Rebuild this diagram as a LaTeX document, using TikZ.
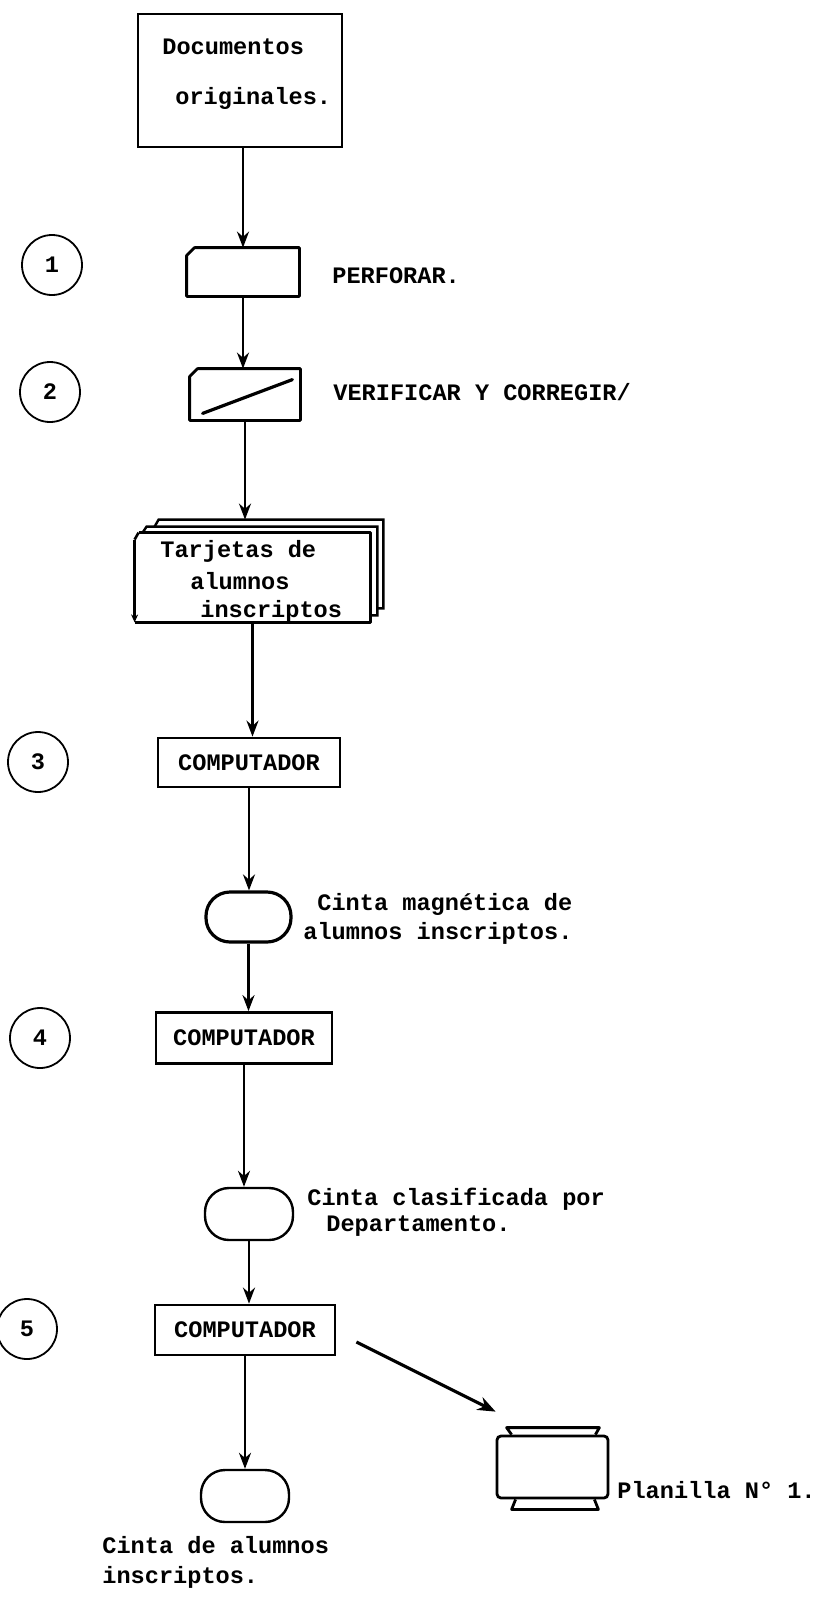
\documentclass[tikz,border=0pt]{standalone}
\usepackage{fontspec}
\setmonofont{Liberation Mono}
\usetikzlibrary{arrows.meta,calc}
\begin{document}
\begin{tikzpicture}[x=0.5pt,y=-0.5pt,
  boxl/.style={line width=1.4pt, line join=round},
  plain/.style={shape=rectangle, inner sep=0pt, draw=none},
  boxn/.style={shape=rectangle, inner sep=0pt, draw, line width=1.4pt},
  tape/.style={shape=rectangle, inner sep=0pt, draw, line width=1.3pt, rounded corners=12pt},
  num/.style={circle, draw, line width=0.9pt, minimum size=30pt, inner sep=0pt,
    font=\ttfamily\bfseries\fontsize{11.8pt}{14pt}\selectfont},
  txt/.style={inner sep=0pt, anchor=west, font=\ttfamily\bfseries\fontsize{11.8pt}{14pt}\selectfont},
  ctxt/.style={font=\ttfamily\bfseries\fontsize{11.8pt}{14pt}\selectfont},
  arr/.style={line width=1.2pt, -{Stealth[length=8pt,width=6pt]}}
]
\fill[white] (0,0) rectangle (819,1608);
\useasboundingbox (0,0) rectangle (819,1608);

% step numbers
\node[num] (c1) at (52,265) {1};
\node[num] (c2) at (50,392) {2};
\node[num] (c3) at (38,762) {3};
\node[num] (c4) at (40,1038) {4};
\node[num] (c5) at (27,1329) {5};

% documents
\node[boxn, minimum width=102pt, minimum height=66.5pt] (doc) at (240,80.5) {};
\node[txt] (t1) at (162,47) {Documentos};
\node[txt] (t2) at (175,98) {originales.};

% perforar card
\node[plain, minimum width=56pt, minimum height=24pt] (perf) at (243,272) {};
\draw[boxl] ([xshift=4pt]perf.north west) -- (perf.north east) -- (perf.south east)
  -- (perf.south west) -- ([yshift=-4pt]perf.north west) -- cycle;
\node[txt] (tperf) at (332,276) {PERFORAR.};

% verificar card
\node[plain, minimum width=55pt, minimum height=25.5pt] (verif) at (245,394.5) {};
\draw[boxl] ([xshift=4pt]verif.north west) -- (verif.north east) -- (verif.south east)
  -- (verif.south west) -- ([yshift=-4pt]verif.north west) -- cycle;
\draw[line width=1.6pt, line cap=round] ($(verif.south west)+(13,-7)$) -- ($(verif.north east)+(-8,11)$);
\node[txt] (tverif) at (333,392) {VERIFICAR Y CORREGIR/};

% deck of cards
\node[plain, minimum width=117.5pt, minimum height=44.5pt] (deck) at (252.5,577.5) {};
\coordinate (decktop) at ($(deck.north)+(0,-13)$);
\draw[boxl] ($(deck.north west)+(4,0)$) -- (deck.north east) -- (deck.south east) -- (deck.south west);
\draw[line width=1.3pt, -{Stealth[length=4pt,width=3.5pt]}] ($(deck.north west)+(0,7)$) -- (deck.south west);
\draw[line width=1.3pt] ($(deck.north west)+(4,0)$) -- ($(deck.north west)+(0,7)$);
\draw[line width=1.2pt] ($(deck.north west)+(8,0)$) -- ($(deck.north west)+(12,-6)$)
  -- ($(deck.north east)+(7,-6)$) -- ($(deck.south east)+(7,-7)$) -- ($(deck.south east)+(0,-7)$);
\draw[line width=1.2pt] ($(deck.north west)+(20,-6)$) -- ($(deck.north west)+(24,-13)$)
  -- ($(deck.north east)+(13,-13)$) -- ($(deck.south east)+(13,-14)$) -- ($(deck.south east)+(7,-14)$);
\node[txt] (td1) at (160,551) {Tarjetas de};
\node[txt] (td2) at (190,581) {alumnos};
\node[txt] (td3) at (200,611) {inscriptos};

% computer 1
\node[boxn, minimum width=91pt, minimum height=24.5pt, ctxt] (comp1) at (249,762.5) {COMPUTADOR};
% tape 1
\node[tape, line width=1.6pt, minimum width=42.5pt, minimum height=25pt] (oval1) at (248.5,917) {};
\node[txt] (to1a) at (317,904) {Cinta magnética de};
\node[txt] (to1b) at (303,933) {alumnos inscriptos.};

% computer 2
\node[boxn, minimum width=88pt, minimum height=25.5pt, ctxt] (comp2) at (244,1038) {COMPUTADOR};
% tape 2
\node[tape, line width=1.2pt, minimum width=44pt, minimum height=26pt] (oval2) at (249,1214) {};
\node[txt] (to2a) at (307,1199) {Cinta clasificada por};
\node[txt] (to2b) at (326,1226) {Departamento.};

% computer 5
\node[boxn, minimum width=90pt, minimum height=25pt, ctxt] (comp5) at (245,1330) {COMPUTADOR};
% tape 3
\node[tape, line width=1.2pt, minimum width=44pt, minimum height=26pt] (oval3) at (245,1496) {};
\node[txt] (to3a) at (102,1545) {Cinta de alumnos};
\node[txt] (to3b) at (102,1577) {inscriptos.};

% printer output
\node[boxn, minimum width=55.5pt, minimum height=31pt, rounded corners=2pt] (prn) at (552.5,1467) {};
\draw[boxl] ($(prn.north west)+(16,0)$) -- ($(prn.north west)+(11,-7)$)
  -- ($(prn.north east)+(-10,-7)$) -- ($(prn.north east)+(-14,0)$);
\draw[boxl] ($(prn.south west)+(20,0)$) -- ($(prn.south west)+(16,10)$)
  -- ($(prn.south east)+(-11,10)$) -- ($(prn.south east)+(-15,0)$);
\node[txt] (tprn) at (617,1490) {Planilla N° 1.};

% connectors
\draw[arr] (doc.south -| perf.north) -- (perf.north);
\draw[arr] (perf.south) -- (perf.south |- verif.north);
\draw[arr] (verif.south) -- (verif.south |- decktop);
\draw[arr] (deck.south) -- (deck.south |- comp1.north);
\draw[arr] (comp1.south) -- (comp1.south |- oval1.north);
\draw[arr] (oval1.south) -- (oval1.south |- comp2.north);
\draw[arr] (comp2.south) -- (comp2.south |- oval2.north);
\draw[arr] (oval2.south) -- (oval2.south |- comp5.north);
\draw[arr] (comp5.south) -- (comp5.south |- oval3.north);
\draw[line width=1.6pt, -{Stealth[length=9pt,width=7pt]}] ([xshift=10pt,yshift=-6pt]comp5.east) -- ([yshift=11.5pt]prn.north west);
\end{tikzpicture}
\end{document}
